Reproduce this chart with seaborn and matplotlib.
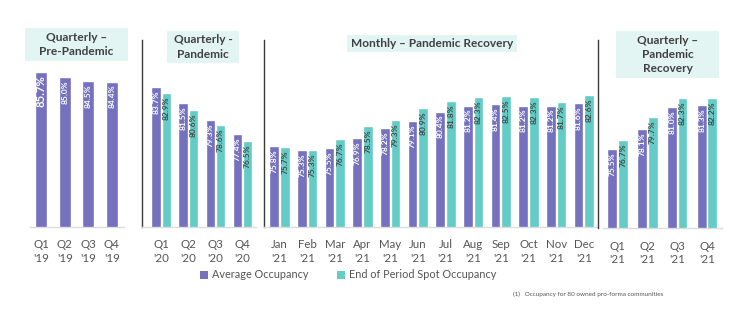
import matplotlib
matplotlib.use("Agg")
import matplotlib.pyplot as plt
from matplotlib.patches import Rectangle, Patch
import pandas as pd
import seaborn as sns

sns.set_theme(style="white")
plt.rcParams["font.family"] = ["Lato", "DejaVu Sans"]

# ---- data -------------------------------------------------------------
pre_periods = ["Q1\n'19", "Q2\n'19", "Q3\n'19", "Q4\n'19"]
pre_avg = [85.7, 85.0, 84.5, 84.4]

pan_periods = ["Q1\n'20", "Q2\n'20", "Q3\n'20", "Q4\n'20"]
pan_avg = [83.7, 81.5, 79.3, 77.4]
pan_spot = [82.9, 80.6, 78.6, 76.5]

mon_periods = ["Jan\n'21", "Feb\n'21", "Mar\n'21", "Apr\n'21", "May\n'21", "Jun\n'21",
               "Jul\n'21", "Aug\n'21", "Sep\n'21", "Oct\n'21", "Nov\n'21", "Dec\n'21"]
mon_avg = [75.8, 75.3, 75.5, 76.9, 78.2, 79.1, 80.4, 81.2, 81.4, 81.2, 81.2, 81.6]
mon_spot = [75.7, 75.3, 76.7, 78.5, 79.3, 80.9, 81.8, 82.3, 82.5, 82.3, 81.7, 82.6]

rec_periods = ["Q1\n'21", "Q2\n'21", "Q3\n'21", "Q4\n'21"]
rec_avg = [75.5, 78.1, 81.0, 81.3]
rec_spot = [76.7, 79.7, 82.3, 82.2]

metrics = ["Average Occupancy", "End of Period Spot Occupancy"]
titles = ["Quarterly \u2013\nPre-Pandemic", "Quarterly -\nPandemic",
          "Monthly \u2013 Pandemic Recovery", "Quarterly \u2013\nPandemic\nRecovery"]
footnote = "(1)   Occupancy for 80 owned pro-forma communities"

PURPLE = "#7571bf"
TEAL = "#63ccc6"
BOX = "#e2f5f3"
TXT = "#404040"
TICK = "#555555"


def long_frame(periods, avg, spot=None):
    rows = [(p, metrics[0], v) for p, v in zip(periods, avg)]
    if spot is not None:
        rows += [(p, metrics[1], v) for p, v in zip(periods, spot)]
    return pd.DataFrame(rows, columns=["period", "metric", "value"])


W, H = 754, 323
fig = plt.figure(figsize=(W / 100, H / 100), dpi=100)


def px_axes(x0, x1, ytop=39.5, ybot=227.0):
    return fig.add_axes([x0 / W, 1 - ybot / H, (x1 - x0) / W, (ybot - ytop) / H])


panels = [
    dict(ax=px_axes(29.5, 123.5), df=long_frame(pre_periods, pre_avg), hue=False,
         width=0.52, xlim=(-0.5, 3.5), left=False, bounds=None),
    dict(ax=px_axes(141.7, 256), df=long_frame(pan_periods, pan_avg, pan_spot), hue=True,
         width=0.75, xlim=(-0.72, 3.5), left=True, bounds=(-0.72, 3.5)),
    dict(ax=px_axes(264.3, 597.7), df=long_frame(mon_periods, mon_avg, mon_spot), hue=True,
         width=0.77, xlim=(-0.55, 11.5), left=True, bounds=(-0.55, 11.5)),
    dict(ax=px_axes(597.7, 722, ybot=228), df=long_frame(rec_periods, rec_avg, rec_spot), hue=True,
         width=0.71, xlim=(-0.66, 3.5), left=True, bounds=(-0.48, 3.5)),
]

for i, p in enumerate(panels):
    ax = p["ax"]
    df = p["df"]
    if p["hue"]:
        sns.barplot(data=df, x="period", y="value", hue="metric", hue_order=metrics,
                    palette=[PURPLE, TEAL], width=p["width"], gap=0.07,
                    saturation=1, legend=False, ax=ax)
    else:
        sns.barplot(data=df, x="period", y="value", color=PURPLE, width=p["width"],
                    saturation=1, ax=ax)
    ax.set_ylim(65, 90)
    ax.set_xlim(*p["xlim"])
    ax.set_xlabel("")
    ax.set_ylabel("")
    ax.set_yticks([])
    ax.tick_params(axis="x", length=0, pad=9, labelsize=8.3, labelcolor=TICK)
    for lab in ax.get_xticklabels():
        lab.set_linespacing(1.3)
    for s in ["top", "right"]:
        ax.spines[s].set_visible(False)
    ax.spines["bottom"].set_color("#dcdcdc")
    ax.spines["bottom"].set_linewidth(1.0)
    if p["bounds"] is not None:
        ax.spines["bottom"].set_bounds(*p["bounds"])
    if p["left"]:
        ax.spines["left"].set_color("#3a3a3a")
        ax.spines["left"].set_linewidth(1.0)
    else:
        ax.spines["left"].set_visible(False)

    # value labels written vertically inside the top of each bar
    for ci, cont in enumerate(ax.containers):
        vals = df[df["metric"] == metrics[ci]]["value"].tolist()
        for bar, v in zip(cont.patches, vals):
            big = (i == 0 and v == max(pre_avg))
            ax.text(bar.get_x() + bar.get_width() / 2, v - 0.45, f"{v:.1f}%",
                    rotation=90, ha="center", va="top",
                    fontsize=8.2 if big else 6.0, fontweight="bold",
                    color="white" if ci == 0 else "#3d4a4a")

# section headings in shaded boxes (pixel boxes: x0, y0, x1, y1)
boxes = [(25, 28, 128, 61), (167, 31, 239, 63), (347, 35, 517, 52), (616, 31, 719, 78)]
for (x0, y0, x1, y1), t in zip(boxes, titles):
    fig.patches.append(Rectangle((x0 / W, 1 - y1 / H), (x1 - x0) / W, (y1 - y0) / H,
                                 transform=fig.transFigure, facecolor=BOX,
                                 edgecolor="none", zorder=0))
    fig.text((x0 + x1) / 2 / W, 1 - (y0 + y1) / 2 / H, t, ha="center", va="center",
             fontsize=8.6, fontweight="bold", color=TXT, linespacing=1.35)

handles = [Patch(facecolor=PURPLE, edgecolor="none"), Patch(facecolor=TEAL, edgecolor="none")]
fig.legend(handles, metrics, loc="center", bbox_to_anchor=(348 / W, 1 - 275 / H),
           ncol=2, frameon=False, fontsize=7.8, labelcolor=TICK,
           handlelength=0.75, handleheight=0.75, handletextpad=0.35, columnspacing=2.6)

fig.text(513 / W, 1 - 294 / H, footnote, ha="left", va="center", fontsize=4.6, color="#555555")

fig.savefig("out.png", dpi=100, facecolor="white")
